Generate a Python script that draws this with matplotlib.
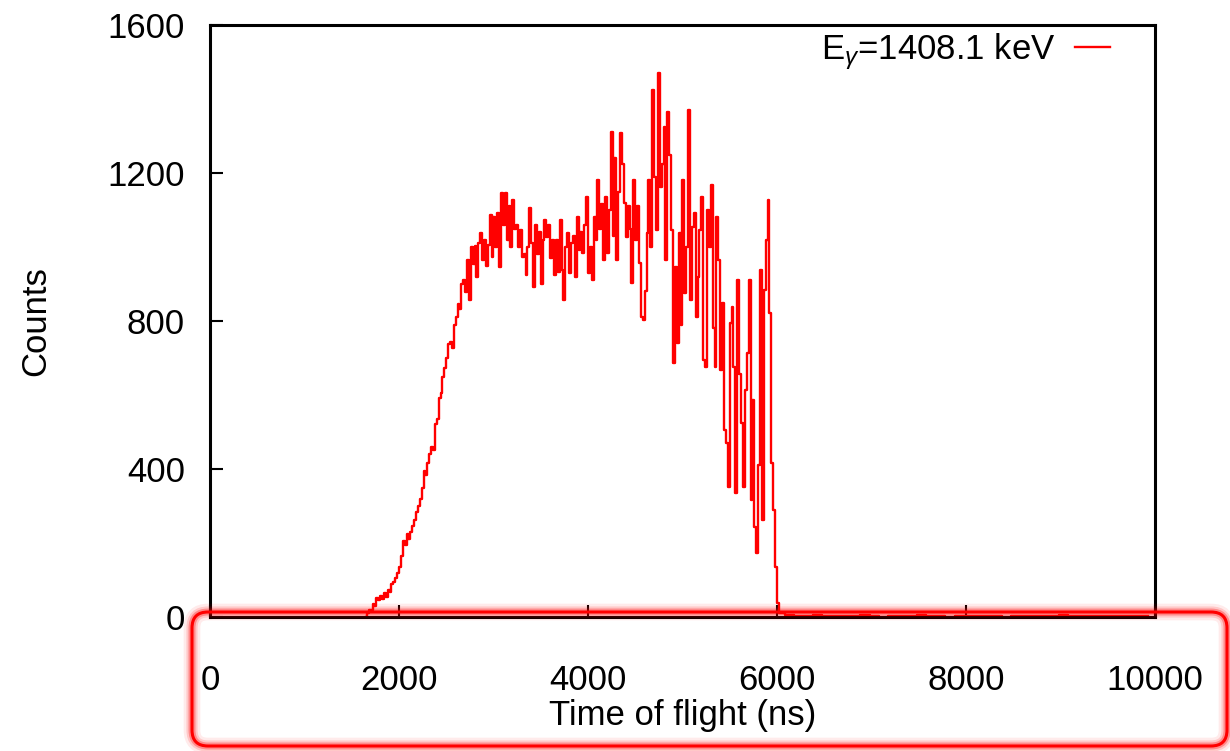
import numpy as np
import matplotlib
matplotlib.use("Agg")
import matplotlib.pyplot as plt
from matplotlib.patches import FancyBboxPatch
from matplotlib.transforms import IdentityTransform

plt.rcParams['font.family'] = ['Liberation Sans', 'DejaVu Sans']
plt.rcParams['mathtext.fontset'] = 'custom'
plt.rcParams['mathtext.rm'] = 'Liberation Sans'
plt.rcParams['mathtext.it'] = 'Liberation Sans:italic'

# 1. Data: counts per 20 ns bin, first bin at 1650 ns
bin_start = 1650
bin_width = 20
counts = [
    0, 12, 20, 18, 35, 30, 52, 45, 58, 48,                 # 1650
    65, 55, 72, 68, 88, 95, 105, 118, 135, 165,            # 1850
    205, 195, 225, 212, 230, 245, 262, 283, 300, 318,      # 2050
    350, 395, 385, 415, 440, 460, 452, 522, 535, 592,      # 2250
    605, 648, 672, 700, 738, 742, 728, 790, 812, 845,      # 2450
    832, 900, 912, 878, 965, 858, 1000, 955, 1003, 920,    # 2650
    1010, 1038, 965, 1020, 950, 1005, 1086, 973, 1080, 1000,  # 2850
    1091, 946, 1146, 1060, 1146, 1020, 1110, 1000, 1127, 1050,  # 3050
    1060, 1000, 1046, 973, 980, 925, 1000, 1105, 1010, 892,   # 3250
    1060, 980, 1040, 900, 1020, 1073, 1027, 1060, 970, 1020,  # 3450
    925, 1019, 932, 1073, 938, 857, 1000, 1038, 930, 1010,    # 3650
    1030, 920, 1081, 992, 1040, 984, 1060, 1135, 930, 1000,   # 3850
    911, 1081, 1020, 1181, 1050, 1116, 965, 1135, 984, 1100,  # 4050
    1311, 1030, 1240, 965, 1150, 1308, 1225, 1120, 1027, 1110,  # 4250
    1050, 903, 1181, 1020, 1110, 957, 811, 803, 880, 1038,    # 4450
    1181, 1000, 1424, 1190, 1046, 1469, 1163, 1225, 1325, 965,  # 4650
    1366, 1250, 1045, 686, 946, 740, 1038, 790, 1181, 875,    # 4850
    1000, 1370, 857, 1054, 1091, 811, 920, 1046, 1135, 695,   # 5050
    675, 1100, 1000, 1168, 780, 675, 1081, 965, 667, 850,     # 5250
    505, 470, 351, 794, 838, 676, 335, 911, 657, 524,         # 5450
    351, 613, 713, 911, 316, 586, 243, 173, 411, 938,         # 5650
    262, 884, 1019, 1127, 821, 416, 290, 135, 38,             # 5850
]

# near-empty tail after the cut-off, 100 ns bins starting at 6030 ns
tail_start = 6030
tail_width = 100
tail_counts = [10, 6, 4, 3, 5, 2, 4, 3, 2, 5, 3, 1, 4, 2, 3, 5, 2, 3, 1, 4,
               2, 3, 4, 2, 1, 3, 2, 4, 3, 2, 5, 3, 2, 4, 3, 2, 3, 4, 2, 3]

legend_label = r'E$_{\gamma}$=1408.1 keV'
x_ticks = [0, 2000, 4000, 6000, 8000, 10000]
y_ticks = [0, 400, 800, 1200, 1600]

tof = np.concatenate([bin_start + bin_width * np.arange(len(counts)),
                      tail_start + tail_width * np.arange(len(tail_counts))])
all_counts = np.concatenate([counts, tail_counts])

# 2. Plot
fig = plt.figure(figsize=(12.3, 7.51), dpi=100)
ax = fig.add_axes([0.1707, 0.1784, 0.7683, 0.7883])

ax.plot(tof, all_counts, color='red', lw=1.7, drawstyle='steps-mid',
        label=legend_label)

ax.set_xlim(0, 10000)
ax.set_ylim(0, 1600)
ax.set_xticks(x_ticks)
ax.set_yticks(y_ticks)
ax.tick_params(axis='both', direction='in', length=9, width=1.5,
               labelsize=25, top=False, right=False)
ax.tick_params(axis='x', pad=34)
ax.tick_params(axis='y', pad=18)
for sp in ax.spines.values():
    sp.set_linewidth(2.2)

ax.set_xlabel('Time of flight (ns)', fontsize=25, labelpad=1)
ax.set_ylabel('Counts', fontsize=25, labelpad=40)

ax.legend(loc='upper right', bbox_to_anchor=(0.952, 0.99), frameon=False,
          markerfirst=False, fontsize=25, handlelength=1.0,
          handletextpad=0.55, borderpad=0, borderaxespad=0)

# 3. Red highlight box around the x axis area
x0, y0, x1, y1 = 192, 5, 1227, 139
for lw, a in [(12, 0.08), (8, 0.15), (5, 0.3)]:
    glow = FancyBboxPatch((x0, y0), x1 - x0, y1 - y0,
                          boxstyle='round,pad=0,rounding_size=16',
                          transform=IdentityTransform(), fill=False,
                          edgecolor='red', lw=lw, alpha=a, zorder=10)
    fig.patches.append(glow)
box = FancyBboxPatch((x0, y0), x1 - x0, y1 - y0,
                     boxstyle='round,pad=0,rounding_size=16',
                     transform=IdentityTransform(), fill=False,
                     edgecolor='red', lw=2.2, zorder=11)
fig.patches.append(box)

fig.savefig('out.png', dpi=100)
